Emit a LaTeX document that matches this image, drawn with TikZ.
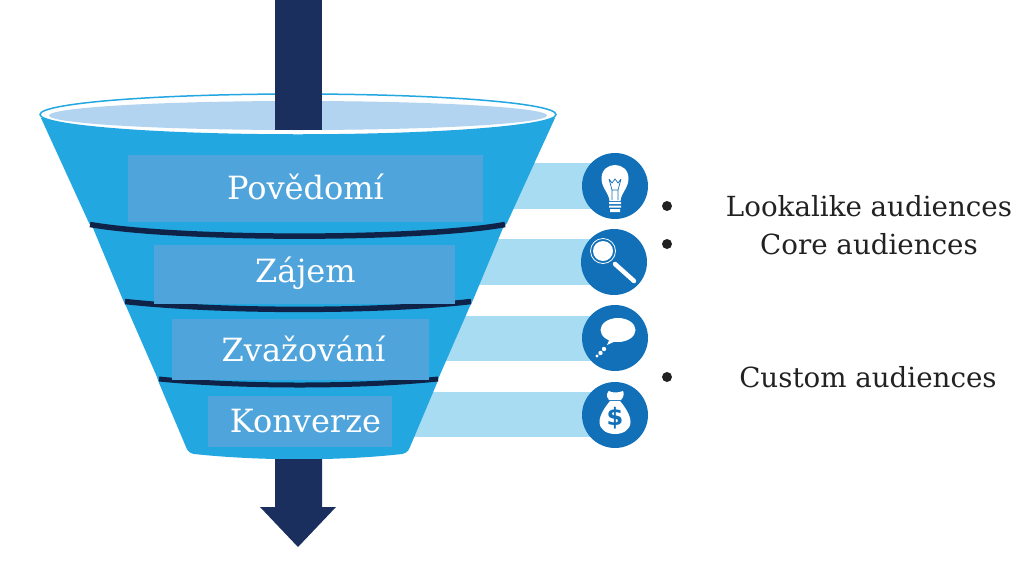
\documentclass[tikz,border=0pt]{standalone}
\usepackage{fontspec}
\setmainfont{DejaVu Serif}
\newfontfamily\dollarfont{DejaVu Sans}
\definecolor{funnelblue}{HTML}{22A7E1}
\definecolor{boxblue}{HTML}{50A4DC}
\definecolor{barblue}{HTML}{A8DCF2}
\definecolor{iconblue}{HTML}{1170B8}
\definecolor{navy}{HTML}{1B2F5E}
\definecolor{bandnavy}{HTML}{0E2347}
\definecolor{pool}{HTML}{B2D4F0}
\definecolor{inktext}{HTML}{222222}
\tikzset{
	stagebox/.style={fill=boxblue,inner sep=0pt},
	stagetext/.style={text=white,font=\fontsize{32}{34}\selectfont},
	audience/.style={text=inktext,font=\fontsize{27.7}{30}\selectfont},
	band/.style={bandnavy,line width=5.5pt},
}
\begin{document}
\begin{tikzpicture}[x=1pt,y=-1pt]
	\useasboundingbox (0,0) rectangle (1024,576);
	\path
	(615,186) coordinate (B) (614,262) coordinate (L) (615,338) coordinate (S) (615,415) coordinate (D)
	(667,206) coordinate (P1) (667,244) coordinate (P2) (667,377) coordinate (P3);
	% bars behind the funnel
	\foreach \i/\j in {163/209,239/285,316/361,392/437}
	\fill[barblue] (400,\i) rectangle (600,\j);
	% funnel
	\fill[funnelblue] (41,118)--(89,223)--(93,228)--(123,300)--(126,306)--(157,377)--(159,383)--(186,447)
	.. controls (188,452) and (190,453) .. (194,454)
	.. controls (260,461) and (340,461) .. (402,454) .. controls (406,453) and (408,452) .. (410,447)
	--(437,383)--(439,377)--(470,306)--(473,300)--(503,228)--(507,223)--(555,118)--cycle;
	\draw[band] (90,224.5) .. controls (180,240) and (420,240) .. (505,224.5);
	\draw[band] (125,301.5) .. controls (220,312) and (380,312) .. (471,301.5);
	\draw[band,line width=5pt] (159,379) .. controls (240,387) and (360,387) .. (438,379);
	\draw[funnelblue,line width=1.5pt,fill=white] (298,114.5) ellipse [x radius=258,y radius=20.5];
	\fill[pool] (298,115.5) ellipse [x radius=249,y radius=14.5];
	% arrow
	\fill[navy] (275,0) rectangle (322,130);
	\fill[navy] (275,459)--(322,459)--(322,507)--(336,507)--(298,547)--(260,507)--(275,507)--cycle;
	% stages
	\foreach \n/\x/\y/\w/\h in {a/305.5/188.5/355/67,b/304.5/274.5/301/59,c/300.5/349.5/257/61,d/300/421.5/184/51}
	\node[stagebox,minimum width=\w pt,minimum height=\h pt] (box\n) at (\x,\y) {};
	\foreach \n/\x/\y/\t in {a/305.5/187/Pov{ě}domí,b/305.5/273/Zájem,c/303.5/349/Zvažování,d/305.5/421/Konverze}
	\node[stagetext] (stage\n) at (\x,\y) {\t};
	% icons
	\foreach \i in {B,L,S,D}
	\fill[iconblue] (\i) circle (33);
	% bulb
	\begin{scope}[shift={(B)}]
		\fill[white] (-5.5,15) .. controls (-6,7) and (-13.5,2) .. (-13.5,-7.5) .. controls (-13.5,-25.5) and (13.5,-25.5) .. (13.5,-7.5)
		.. controls (13.5,2) and (6,7) .. (5.5,15)--cycle;
		\fill[white] (-6,16) rectangle (6,18) (-6,19.5) rectangle (6,21.5) (-5,23) rectangle (5,26);
		\draw[iconblue,line width=.7pt] (-3,14)--(-3,4)--(-6,-7) (3,14)--(3,4)--(6,-7) (-6,-7)--(-3,-3)--(0,-7)--(3,-3)--(6,-7) (-3,4)--(3,4);
	\end{scope}
	% magnifier
	\begin{scope}[shift={(L)}]
		\draw[white,line width=4.5pt,line cap=round] (1,2)--(20,19);
		\draw[white,line width=.8pt] (-11,-11) circle (12.5);
		\fill[white] (-11,-11) circle (10);
	\end{scope}
	% speech
	\begin{scope}[shift={(S)}]
		\fill[white] (3,-8) ellipse [x radius=17.5,y radius=12];
		\fill[white] (-5,0)--(-8,7)--(3,2)--cycle;
		\fill[white] (-11,11) circle (2.2) (-14.5,15) circle (2.2) (-18,18) circle (1.7);
	\end{scope}
	% bag
	\begin{scope}[shift={(D)}]
		\fill[white] (-6,-15) .. controls (-10,-19) and (-7,-24) .. (-6,-24) .. controls (-3,-22) and (3,-22) .. (8,-24)
		.. controls (9,-22) and (9,-18) .. (6,-15)--cycle;
		\fill[white] (-5,-14) .. controls (-10,-8) and (-15.5,0) .. (-15.5,7) .. controls (-15.5,23) and (15.5,23) .. (15.5,7)
		.. controls (15.5,0) and (10,-8) .. (5,-14)--cycle;
		\node[text=iconblue,font=\dollarfont\bfseries\fontsize{24}{24}\selectfont] (dollar) at (0,3) {\$};
	\end{scope}
	% audiences
	\foreach \i in {P1,P2,P3}
	\fill[inktext] (\i) circle (5);
	\node[audience] (look) at (869,206) {Lookalike audiences};
	\node[audience] (core) at (869,244) {Core audiences};
	\node[audience] (cust) at (868,377) {Custom audiences};
\end{tikzpicture}
\end{document}
